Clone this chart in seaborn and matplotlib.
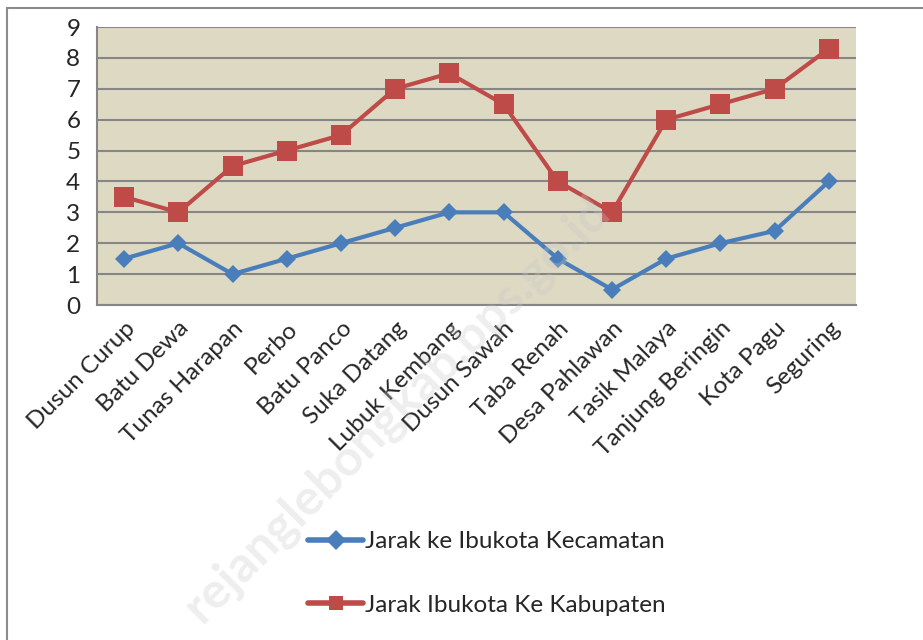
import pandas as pd
import matplotlib.pyplot as plt
import matplotlib.patches as patches
import seaborn as sns

# Data
desa = ["Dusun Curup", "Batu Dewa", "Tunas Harapan", "Perbo", "Batu Panco",
        "Suka Datang", "Lubuk Kembang", "Dusun Sawah", "Taba Renah",
        "Desa Pahlawan", "Tasik Malaya", "Tanjung Beringin", "Kota Pagu", "Seguring"]
jarak_kecamatan = [1.5, 2, 1, 1.5, 2, 2.5, 3, 3, 1.5, 0.5, 1.5, 2, 2.4, 4]
jarak_kabupaten = [3.5, 3, 4.5, 5, 5.5, 7, 7.5, 6.5, 4, 3, 6, 6.5, 7, 8.3]
seri = ["Jarak ke Ibukota Kecamatan", "Jarak Ibukota Ke Kabupaten"]

df = pd.DataFrame({
    "Desa": desa * 2,
    "Jarak": jarak_kecamatan + jarak_kabupaten,
    "Seri": [seri[0]] * len(desa) + [seri[1]] * len(desa),
})

sns.set_style("white")
plt.rcParams["font.family"] = ["Lato", "DejaVu Sans"]

fig = plt.figure(figsize=(9.23, 6.40), dpi=100)
ax = fig.add_axes([0.1051, 0.5234, 0.8223, 0.4344])
ax.set_facecolor("#DDD9C3")

sns.lineplot(data=df, x="Desa", y="Jarak", hue="Seri", style="Seri",
             palette=["#4A7EBB", "#BE4B48"], markers=["D", "s"],
             markersize=10, dashes=False, sort=False, linewidth=3,
             markeredgewidth=0, ax=ax, zorder=3)
for ln, ms in zip(ax.lines, [9.5, 14]):
    ln.set_markersize(ms)

ax.set_xlim(-0.5, len(desa) - 0.5)
ax.set_ylim(0, 9)
ax.set_yticks(range(10))
ax.grid(axis="y", color="#868686", linewidth=1.5, zorder=1)
ax.set_axisbelow(True)
ax.set_xlabel("")
ax.set_ylabel("")

for s in ["top", "right"]:
    ax.spines[s].set_visible(False)
for s in ["left", "bottom"]:
    ax.spines[s].set_color("#868686")
    ax.spines[s].set_linewidth(1.5)

ax.set_xticks(range(len(desa)))
ax.set_xticklabels(desa, rotation=45, ha="right", rotation_mode="anchor")
ax.set_xticks([i - 0.5 for i in range(len(desa) + 1)], minor=True)
ax.tick_params(axis="x", which="major", length=0, labelsize=17.5, pad=9)
ax.tick_params(axis="x", which="minor", length=7, width=1.5, color="#868686")
ax.tick_params(axis="y", length=7, width=1.5, color="#868686", labelsize=17.5, pad=5)

handles, labels = ax.get_legend_handles_labels()
ax.legend_.remove()
for h in handles:
    h.set_linewidth(4)
fig.legend(handles, labels, loc="center", bbox_to_anchor=(0.527, 0.104),
           frameon=False, fontsize=17.5, handlelength=2.3, handletextpad=0.05,
           labelspacing=1.75, markerscale=1.0)

# chart border
fig.patches.append(patches.Rectangle((0.0076, -0.2), 1.2, 1.1875,
                                     transform=fig.transFigure, fill=False,
                                     edgecolor="#8C8C8C", linewidth=1.5))

# watermark
fig.text(0.43, 0.36, "rejanglebongkab.bps.go.id", rotation=45, fontsize=36,
         fontweight="bold", color="#C8C8C8", alpha=0.3, ha="center", va="center",
         zorder=10)

plt.savefig("out.png", dpi=100)
